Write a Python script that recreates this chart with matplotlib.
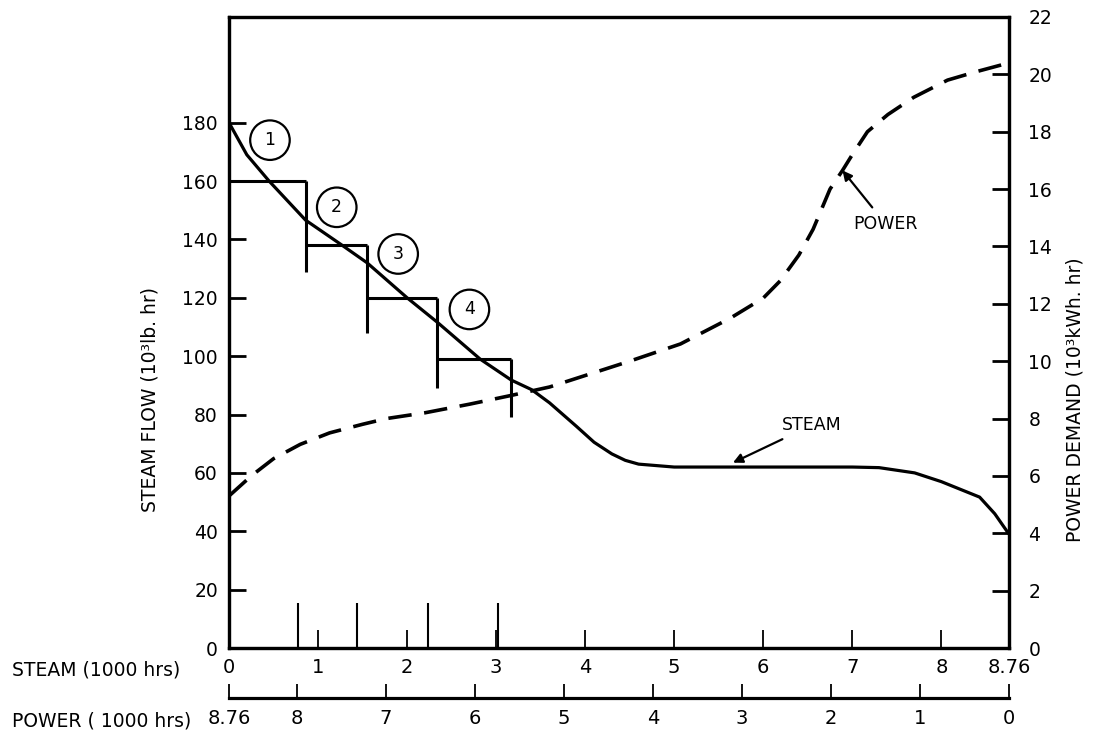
import numpy as np
import matplotlib.pyplot as plt

plt.rcParams['font.family'] = ['DejaVu Sans']

# curva de vapor (eje izquierdo, 10^3 lb/hr) vs tiempo de vapor (1000 hrs)
steam_x = [0, 0.2, 0.45, 0.86, 1.27, 1.55, 2.0, 2.34, 2.82, 3.17, 3.4, 3.6, 3.75,
           3.9, 4.1, 4.3, 4.45, 4.6, 5.0, 5.5, 6.0, 6.5, 7.0, 7.3, 7.7, 8.0,
           8.43, 8.6, 8.76]
steam_y = [180, 169, 160, 146.6, 138, 132, 120, 111.6, 99, 91.8, 88.5, 84, 80,
           76, 70.5, 66.5, 64.3, 63, 62, 62, 62, 62, 62, 61.8, 60, 57,
           51.7, 46, 39]

# curva de potencia (eje derecho, 10^3 kWh/hr)
power_x = [0, 0.25, 0.5, 0.8, 1.13, 1.5, 1.77, 2.2, 2.7, 3.16, 3.6, 4.0, 4.5,
           5.07, 5.63, 6.0, 6.19, 6.4, 6.56, 6.75, 6.89, 7.0, 7.17, 7.4, 7.69,
           8.07, 8.4, 8.76]
power_y = [5.3, 6.0, 6.6, 7.1, 7.5, 7.8, 8.0, 8.2, 8.5, 8.8, 9.1, 9.5, 10.0,
           10.6, 11.5, 12.2, 12.8, 13.7, 14.6, 16.0, 16.65, 17.2, 18.0, 18.6, 19.2,
           19.8, 20.1, 20.4]

# escalones
step_x = [0, 0.86, 1.55, 2.34, 3.17]
step_level = [160, 138, 120, 99]
step_bottom = [129, 108, 89, 79]
circle_labels = ['1', '2', '3', '4']
circle_x = [0.46, 1.21, 1.90, 2.70]
circle_y = [174, 151, 135, 116]

tall_marks = [0.77, 1.44, 2.23, 3.02]

steam_ticks = [0, 1, 2, 3, 4, 5, 6, 7, 8, 8.76]
steam_ticklabels = ['0', '1', '2', '3', '4', '5', '6', '7', '8', '8.76']
power_ticks = [8.76, 8, 7, 6, 5, 4, 3, 2, 1, 0]
power_ticklabels = ['8.76', '8', '7', '6', '5', '4', '3', '2', '1', '0']

W, H = 1099, 732
fig = plt.figure(figsize=(W / 100, H / 100), dpi=100)
ax = fig.add_axes([229 / W, 1 - 648 / H, 780 / W, 631 / H])
ax.set_xlim(0, 8.76)
ax.set_ylim(0, 216.2)
for s in ax.spines.values():
    s.set_linewidth(2.3)

ax.plot(steam_x, steam_y, color='black', lw=2.3, solid_capstyle='butt')

for i in range(len(step_level)):
    ax.hlines(step_level[i], step_x[i], step_x[i + 1], color='black', lw=2.2)
    ax.vlines(step_x[i + 1], step_bottom[i], step_level[i], color='black', lw=2.2)

for lab, cx, cy in zip(circle_labels, circle_x, circle_y):
    ax.text(cx, cy, lab, ha='center', va='center', fontsize=12.5,
            bbox=dict(boxstyle='circle,pad=0.62', fc='white', ec='black', lw=1.6))

ax.vlines(tall_marks, 0, 15.5, color='black', lw=1.5)

ax.set_yticks(range(0, 181, 20))
ax.tick_params(axis='y', direction='in', length=12, width=2, labelsize=13.5, pad=8)
ax.set_xticks(steam_ticks)
ax.set_xticklabels(steam_ticklabels)
ax.tick_params(axis='x', direction='in', length=13, width=1.3, labelsize=14, pad=7)

ax2 = ax.twinx()
ax2.set_ylim(0, 22)
ax2.plot(power_x, power_y, color='black', lw=2.6, dashes=(6.5, 3.5))
ax2.set_yticks(range(0, 23, 2))
ax2.tick_params(axis='y', direction='in', length=12, width=2, labelsize=13.5, pad=14)
for s in ax2.spines.values():
    s.set_linewidth(2.3)

# eje secundario de potencia
sec = ax.secondary_xaxis(-0.0792, functions=(lambda s: 8.76 - s, lambda p: 8.76 - p))
sec.set_xticks(power_ticks)
sec.set_xticklabels(power_ticklabels)
sec.tick_params(direction='in', length=10, width=1.3, labelsize=14, pad=8)
sec.spines['bottom'].set_linewidth(2.3)

ax2.annotate('POWER', xy=(6.89, 16.65), xytext=(7.37, 14.8), fontsize=12.5,
             ha='center', va='center',
             arrowprops=dict(arrowstyle='-|>', color='black', lw=1.6,
                             mutation_scale=14, shrinkA=4, shrinkB=0))
ax.annotate('STEAM', xy=(5.66, 63.5), xytext=(6.55, 76.4), fontsize=12.5,
            ha='center', va='center',
            arrowprops=dict(arrowstyle='-|>', color='black', lw=1.6,
                            mutation_scale=14, shrinkA=4, shrinkB=0))

fig.text(150 / W, 1 - 400 / H, 'STEAM FLOW (10³lb. hr)', rotation=90,
         ha='center', va='center', fontsize=13.5)
fig.text(1075 / W, 1 - 400 / H, 'POWER DEMAND (10³kWh. hr)', rotation=90,
         ha='center', va='center', fontsize=13.5)
fig.text(12 / W, 1 - 670 / H, 'STEAM (1000 hrs)', ha='left', va='center', fontsize=13.5)
fig.text(12 / W, 1 - 721 / H, 'POWER ( 1000 hrs)', ha='left', va='center', fontsize=13.5)

fig.savefig('out.png', dpi=100)
